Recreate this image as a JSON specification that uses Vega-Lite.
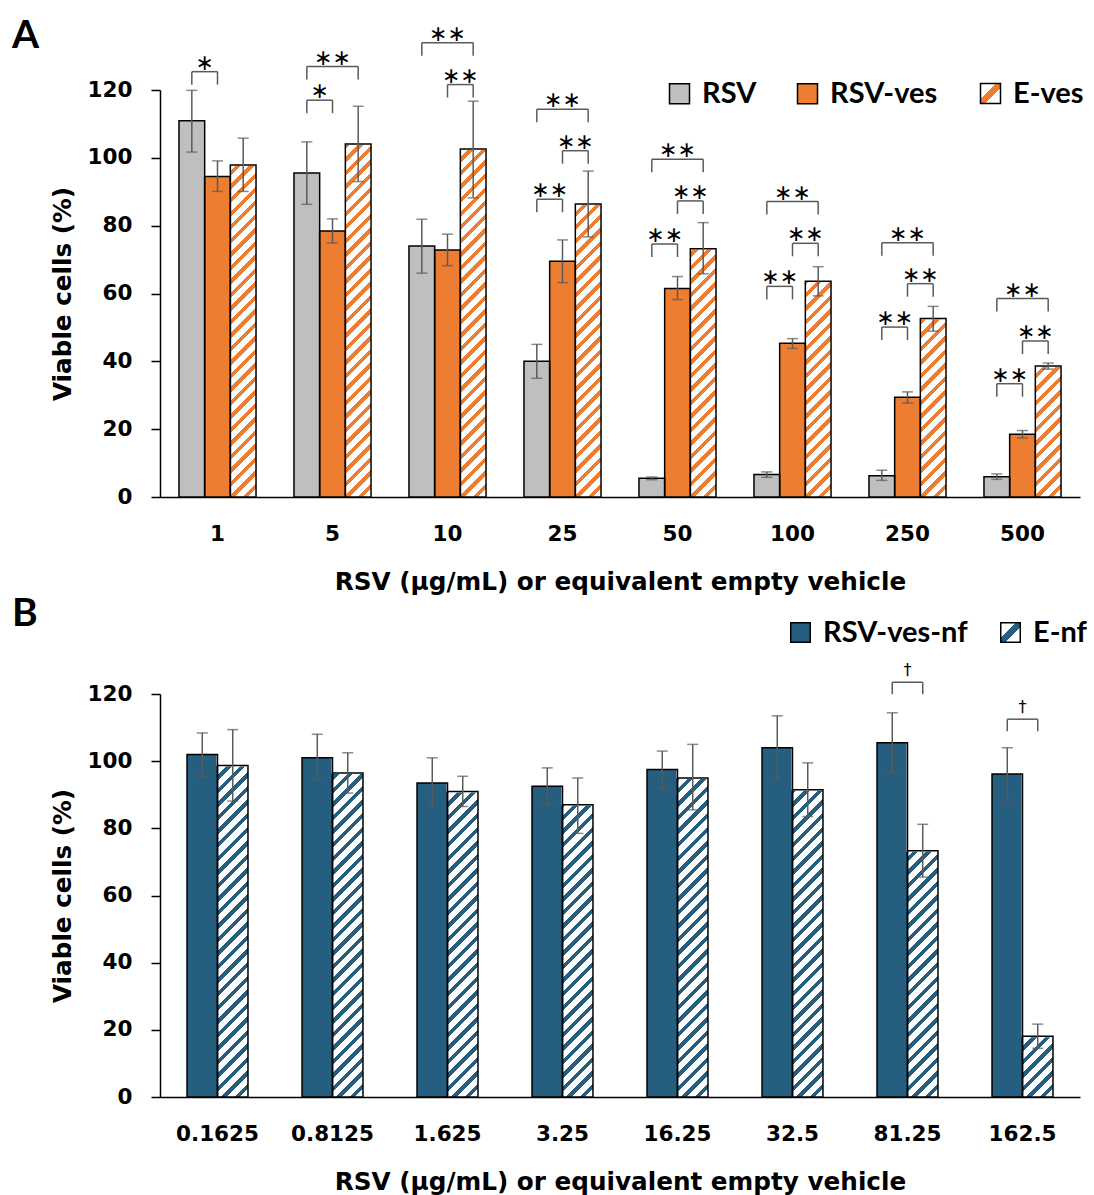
{
  "$schema": "https://vega.github.io/schema/vega-lite/v6.json",
  "background": "white",
  "padding": {"left": 12, "top": 16, "right": 5, "bottom": 0},
  "spacing": 0,
  "config": {
    "view": {"stroke": null},
    "font": "DejaVu Sans",
    "axisY": {"grid": false, "labelOverlap": false, "tickSize": 9, "tickWidth": 1.5, "tickColor": "#000", "domainColor": "#000", "domainWidth": 1.5, "labelPadding": 19, "labelFont": "DejaVu Sans", "labelFontSize": 21.5, "labelFontWeight": "bold", "labelColor": "#000", "titleFont": "DejaVu Sans", "titleFontSize": 24.7, "titleFontWeight": "bold", "titleColor": "#000", "titlePadding": 12},
    "axisX": {"labelAngle": 0, "ticks": false, "labelPadding": 26, "labelFont": "DejaVu Sans", "labelFontSize": 21.5, "labelFontWeight": "bold", "labelColor": "#000", "domainColor": "#000", "domainWidth": 1.5, "titleFont": "DejaVu Sans", "titleFontSize": 24.7, "titleFontWeight": "bold", "titleColor": "#000", "titlePadding": 25}
  },
  "resolve": {"scale": {"x": "independent", "y": "independent", "xOffset": "independent", "fill": "independent", "stroke": "independent"}, "legend": {"fill": "independent", "stroke": "independent"}},
  "datasets": {
    "barsA": [
      {"dose": "1", "series": "RSV", "mean": 110.9, "lo": 101.7, "hi": 119.9},
      {"dose": "1", "series": "RSV-ves", "mean": 94.5, "lo": 90.1, "hi": 99.1},
      {"dose": "1", "series": "E-ves", "mean": 97.9, "lo": 90.1, "hi": 105.8},
      {"dose": "5", "series": "RSV", "mean": 95.5, "lo": 86.3, "hi": 104.7},
      {"dose": "5", "series": "RSV-ves", "mean": 78.4, "lo": 74.9, "hi": 82.0},
      {"dose": "5", "series": "E-ves", "mean": 104.1, "lo": 93.0, "hi": 115.2},
      {"dose": "10", "series": "RSV", "mean": 74.0, "lo": 66.0, "hi": 81.9},
      {"dose": "10", "series": "RSV-ves", "mean": 72.8, "lo": 68.2, "hi": 77.5},
      {"dose": "10", "series": "E-ves", "mean": 102.6, "lo": 88.2, "hi": 116.7},
      {"dose": "25", "series": "RSV", "mean": 40.0, "lo": 35.0, "hi": 45.0},
      {"dose": "25", "series": "RSV-ves", "mean": 69.5, "lo": 63.2, "hi": 75.8},
      {"dose": "25", "series": "E-ves", "mean": 86.4, "lo": 76.7, "hi": 96.1},
      {"dose": "50", "series": "RSV", "mean": 5.5, "lo": 5.1, "hi": 5.9},
      {"dose": "50", "series": "RSV-ves", "mean": 61.5, "lo": 58.2, "hi": 65.0},
      {"dose": "50", "series": "E-ves", "mean": 73.2, "lo": 65.8, "hi": 80.9},
      {"dose": "100", "series": "RSV", "mean": 6.6, "lo": 5.8, "hi": 7.4},
      {"dose": "100", "series": "RSV-ves", "mean": 45.3, "lo": 43.8, "hi": 46.7},
      {"dose": "100", "series": "E-ves", "mean": 63.6, "lo": 59.3, "hi": 67.9},
      {"dose": "250", "series": "RSV", "mean": 6.3, "lo": 4.9, "hi": 7.9},
      {"dose": "250", "series": "RSV-ves", "mean": 29.4, "lo": 27.7, "hi": 31.0},
      {"dose": "250", "series": "E-ves", "mean": 52.6, "lo": 48.9, "hi": 56.2},
      {"dose": "500", "series": "RSV", "mean": 6.0, "lo": 5.2, "hi": 6.8},
      {"dose": "500", "series": "RSV-ves", "mean": 18.5, "lo": 17.4, "hi": 19.6},
      {"dose": "500", "series": "E-ves", "mean": 38.6, "lo": 37.7, "hi": 39.5}
    ],
    "sigA": [
      {"dose": "1", "from": "RSV", "to": "RSV-ves", "level": 125.4, "label": "∗"},
      {"dose": "5", "from": "RSV", "to": "RSV-ves", "level": 117.0, "label": "∗"},
      {"dose": "5", "from": "RSV", "to": "E-ves", "level": 126.9, "label": "∗∗"},
      {"dose": "10", "from": "RSV", "to": "E-ves", "level": 133.9, "label": "∗∗"},
      {"dose": "10", "from": "RSV-ves", "to": "E-ves", "level": 121.6, "label": "∗∗"},
      {"dose": "25", "from": "RSV", "to": "E-ves", "level": 114.3, "label": "∗∗"},
      {"dose": "25", "from": "RSV-ves", "to": "E-ves", "level": 102.1, "label": "∗∗"},
      {"dose": "25", "from": "RSV", "to": "RSV-ves", "level": 87.8, "label": "∗∗"},
      {"dose": "50", "from": "RSV", "to": "E-ves", "level": 99.6, "label": "∗∗"},
      {"dose": "50", "from": "RSV-ves", "to": "E-ves", "level": 87.3, "label": "∗∗"},
      {"dose": "50", "from": "RSV", "to": "RSV-ves", "level": 74.6, "label": "∗∗"},
      {"dose": "100", "from": "RSV", "to": "E-ves", "level": 87.1, "label": "∗∗"},
      {"dose": "100", "from": "RSV-ves", "to": "E-ves", "level": 74.8, "label": "∗∗"},
      {"dose": "100", "from": "RSV", "to": "RSV-ves", "level": 62.1, "label": "∗∗"},
      {"dose": "250", "from": "RSV", "to": "E-ves", "level": 75.0, "label": "∗∗"},
      {"dose": "250", "from": "RSV-ves", "to": "E-ves", "level": 62.9, "label": "∗∗"},
      {"dose": "250", "from": "RSV", "to": "RSV-ves", "level": 50.1, "label": "∗∗"},
      {"dose": "500", "from": "RSV", "to": "E-ves", "level": 58.5, "label": "∗∗"},
      {"dose": "500", "from": "RSV-ves", "to": "E-ves", "level": 46.0, "label": "∗∗"},
      {"dose": "500", "from": "RSV", "to": "RSV-ves", "level": 33.4, "label": "∗∗"}
    ],
    "barsB": [
      {"dose": "0.1625", "series": "RSV-ves-nf", "mean": 102.0, "lo": 95.5, "hi": 108.4},
      {"dose": "0.1625", "series": "E-nf", "mean": 98.7, "lo": 88.1, "hi": 109.4},
      {"dose": "0.8125", "series": "RSV-ves-nf", "mean": 101.0, "lo": 94.5, "hi": 108.0},
      {"dose": "0.8125", "series": "E-nf", "mean": 96.5, "lo": 90.5, "hi": 102.5},
      {"dose": "1.625", "series": "RSV-ves-nf", "mean": 93.5, "lo": 86.5, "hi": 101.0},
      {"dose": "1.625", "series": "E-nf", "mean": 91.0, "lo": 86.5, "hi": 95.5},
      {"dose": "3.25", "series": "RSV-ves-nf", "mean": 92.5, "lo": 87.0, "hi": 98.0},
      {"dose": "3.25", "series": "E-nf", "mean": 87.0, "lo": 78.5, "hi": 95.0},
      {"dose": "16.25", "series": "RSV-ves-nf", "mean": 97.5, "lo": 92.0, "hi": 103.0},
      {"dose": "16.25", "series": "E-nf", "mean": 95.0, "lo": 85.5, "hi": 105.0},
      {"dose": "32.5", "series": "RSV-ves-nf", "mean": 104.0, "lo": 94.5, "hi": 113.5},
      {"dose": "32.5", "series": "E-nf", "mean": 91.5, "lo": 83.5, "hi": 99.5},
      {"dose": "81.25", "series": "RSV-ves-nf", "mean": 105.5, "lo": 96.7, "hi": 114.4},
      {"dose": "81.25", "series": "E-nf", "mean": 73.3, "lo": 65.5, "hi": 81.2},
      {"dose": "162.5", "series": "RSV-ves-nf", "mean": 96.2, "lo": 88.4, "hi": 104.0},
      {"dose": "162.5", "series": "E-nf", "mean": 18.1, "lo": 14.5, "hi": 21.7}
    ],
    "sigB": [
      {"dose": "81.25", "from": "RSV-ves-nf", "to": "E-nf", "level": 123.5, "label": "†"},
      {"dose": "162.5", "from": "RSV-ves-nf", "to": "E-nf", "level": 112.5, "label": "†"}
    ]
  },
  "vconcat": [
    {
      "title": {"text": "A", "anchor": "start", "frame": "bounds", "font": "Lato", "fontSize": 39, "fontWeight": "bold", "color": "#000", "dx": -38, "offset": -33},
      "width": 920,
      "height": 407,
      "encoding": {
        "x": {"field": "dose", "type": "nominal", "title": "RSV (µg/mL) or equivalent empty vehicle",
          "scale": {"domain": ["1", "5", "10", "25", "50", "100", "250", "500"], "paddingInner": 0.33, "paddingOuter": 0.165}}
      },
      "layer": [
        {
          "data": {"name": "barsA"},
          "transform": [{"filter": "datum.series !== 'E-ves'"}],
          "mark": {"type": "bar", "strokeWidth": 0},
          "encoding": {
            "xOffset": {"field": "series", "type": "nominal", "scale": {"domain": ["RSV", "RSV-ves", "E-ves"]}},
            "y": {"field": "mean", "type": "quantitative", "title": "Viable cells (%)", "scale": {"domain": [0, 120]}, "axis": {"values": [0, 20, 40, 60, 80, 100, 120]}},
            "fill": {"field": "series", "type": "nominal",
              "scale": {"domain": ["RSV", "RSV-ves"], "range": ["#BFBFBF", "#ED7D31"]},
              "legend": {"title": null, "orient": "none", "legendX": 505, "legendY": -11, "direction": "horizontal", "symbolType": "square", "symbolSize": 400, "symbolStrokeColor": "#000", "symbolStrokeWidth": 1.5, "symbolOpacity": 1, "labelFont": "Lato", "labelFontSize": 29, "labelFontWeight": "bold", "labelColor": "#000", "labelOffset": 8, "columnPadding": 36}
            }
          }
        },
        {
          "data": {"name": "barsA"},
          "transform": [{"filter": "datum.series === 'E-ves'"}],
          "mark": {"type": "bar", "opacity": 0, "strokeWidth": 0, "fill": {"gradient": "linear", "x1": 0, "y1": 0, "x2": 1, "y2": 1, "stops": [{"offset": 0, "color": "#fff"}, {"offset": 0.38, "color": "#fff"}, {"offset": 0.38, "color": "#ED7D31"}, {"offset": 0.62, "color": "#ED7D31"}, {"offset": 0.62, "color": "#fff"}, {"offset": 1, "color": "#fff"}]}},
          "encoding": {
            "xOffset": {"field": "series", "type": "nominal", "scale": {"domain": ["RSV", "RSV-ves", "E-ves"]}},
            "y": {"field": "mean", "type": "quantitative", "title": "Viable cells (%)", "scale": {"domain": [0, 120]}, "axis": {"values": [0, 20, 40, 60, 80, 100, 120]}},
            "stroke": {"field": "series", "type": "nominal",
              "scale": {"domain": ["E-ves"], "range": ["#000"]},
              "legend": {"title": null, "orient": "none", "legendX": 816, "legendY": -11, "direction": "horizontal", "symbolType": "square", "symbolSize": 400, "symbolStrokeWidth": 1.5, "symbolOpacity": 1, "labelFont": "Lato", "labelFontSize": 29, "labelFontWeight": "bold", "labelColor": "#000", "labelOffset": 8}
            }
          }
        },
        {
          "data": {"name": "barsA"},
          "transform": [{"filter": "datum.series === 'E-ves'"}],
          "mark": {"type": "bar", "strokeWidth": 0, "fill": {"gradient": "linear", "x1": 0, "y1": 0, "x2": 0.06682, "y2": 1.05889, "stops": [
            {"offset": 0, "color": "#ED7D31"}, {"offset": 0.0125, "color": "#ED7D31"}, {"offset": 0.0125, "color": "#fff"}, {"offset": 0.03125, "color": "#fff"},
            {"offset": 0.03125, "color": "#ED7D31"}, {"offset": 0.04375, "color": "#ED7D31"}, {"offset": 0.04375, "color": "#fff"}, {"offset": 0.0625, "color": "#fff"},
            {"offset": 0.0625, "color": "#ED7D31"}, {"offset": 0.075, "color": "#ED7D31"}, {"offset": 0.075, "color": "#fff"}, {"offset": 0.09375, "color": "#fff"},
            {"offset": 0.09375, "color": "#ED7D31"}, {"offset": 0.10625, "color": "#ED7D31"}, {"offset": 0.10625, "color": "#fff"}, {"offset": 0.125, "color": "#fff"},
            {"offset": 0.125, "color": "#ED7D31"}, {"offset": 0.1375, "color": "#ED7D31"}, {"offset": 0.1375, "color": "#fff"}, {"offset": 0.15625, "color": "#fff"},
            {"offset": 0.15625, "color": "#ED7D31"}, {"offset": 0.16875, "color": "#ED7D31"}, {"offset": 0.16875, "color": "#fff"}, {"offset": 0.1875, "color": "#fff"},
            {"offset": 0.1875, "color": "#ED7D31"}, {"offset": 0.2, "color": "#ED7D31"}, {"offset": 0.2, "color": "#fff"}, {"offset": 0.21875, "color": "#fff"},
            {"offset": 0.21875, "color": "#ED7D31"}, {"offset": 0.23125, "color": "#ED7D31"}, {"offset": 0.23125, "color": "#fff"}, {"offset": 0.25, "color": "#fff"},
            {"offset": 0.25, "color": "#ED7D31"}, {"offset": 0.2625, "color": "#ED7D31"}, {"offset": 0.2625, "color": "#fff"}, {"offset": 0.28125, "color": "#fff"},
            {"offset": 0.28125, "color": "#ED7D31"}, {"offset": 0.29375, "color": "#ED7D31"}, {"offset": 0.29375, "color": "#fff"}, {"offset": 0.3125, "color": "#fff"},
            {"offset": 0.3125, "color": "#ED7D31"}, {"offset": 0.325, "color": "#ED7D31"}, {"offset": 0.325, "color": "#fff"}, {"offset": 0.34375, "color": "#fff"},
            {"offset": 0.34375, "color": "#ED7D31"}, {"offset": 0.35625, "color": "#ED7D31"}, {"offset": 0.35625, "color": "#fff"}, {"offset": 0.375, "color": "#fff"},
            {"offset": 0.375, "color": "#ED7D31"}, {"offset": 0.3875, "color": "#ED7D31"}, {"offset": 0.3875, "color": "#fff"}, {"offset": 0.40625, "color": "#fff"},
            {"offset": 0.40625, "color": "#ED7D31"}, {"offset": 0.41875, "color": "#ED7D31"}, {"offset": 0.41875, "color": "#fff"}, {"offset": 0.4375, "color": "#fff"},
            {"offset": 0.4375, "color": "#ED7D31"}, {"offset": 0.45, "color": "#ED7D31"}, {"offset": 0.45, "color": "#fff"}, {"offset": 0.46875, "color": "#fff"},
            {"offset": 0.46875, "color": "#ED7D31"}, {"offset": 0.48125, "color": "#ED7D31"}, {"offset": 0.48125, "color": "#fff"}, {"offset": 0.5, "color": "#fff"},
            {"offset": 0.5, "color": "#ED7D31"}, {"offset": 0.5125, "color": "#ED7D31"}, {"offset": 0.5125, "color": "#fff"}, {"offset": 0.53125, "color": "#fff"},
            {"offset": 0.53125, "color": "#ED7D31"}, {"offset": 0.54375, "color": "#ED7D31"}, {"offset": 0.54375, "color": "#fff"}, {"offset": 0.5625, "color": "#fff"},
            {"offset": 0.5625, "color": "#ED7D31"}, {"offset": 0.575, "color": "#ED7D31"}, {"offset": 0.575, "color": "#fff"}, {"offset": 0.59375, "color": "#fff"},
            {"offset": 0.59375, "color": "#ED7D31"}, {"offset": 0.60625, "color": "#ED7D31"}, {"offset": 0.60625, "color": "#fff"}, {"offset": 0.625, "color": "#fff"},
            {"offset": 0.625, "color": "#ED7D31"}, {"offset": 0.6375, "color": "#ED7D31"}, {"offset": 0.6375, "color": "#fff"}, {"offset": 0.65625, "color": "#fff"},
            {"offset": 0.65625, "color": "#ED7D31"}, {"offset": 0.66875, "color": "#ED7D31"}, {"offset": 0.66875, "color": "#fff"}, {"offset": 0.6875, "color": "#fff"},
            {"offset": 0.6875, "color": "#ED7D31"}, {"offset": 0.7, "color": "#ED7D31"}, {"offset": 0.7, "color": "#fff"}, {"offset": 0.71875, "color": "#fff"},
            {"offset": 0.71875, "color": "#ED7D31"}, {"offset": 0.73125, "color": "#ED7D31"}, {"offset": 0.73125, "color": "#fff"}, {"offset": 0.75, "color": "#fff"},
            {"offset": 0.75, "color": "#ED7D31"}, {"offset": 0.7625, "color": "#ED7D31"}, {"offset": 0.7625, "color": "#fff"}, {"offset": 0.78125, "color": "#fff"},
            {"offset": 0.78125, "color": "#ED7D31"}, {"offset": 0.79375, "color": "#ED7D31"}, {"offset": 0.79375, "color": "#fff"}, {"offset": 0.8125, "color": "#fff"},
            {"offset": 0.8125, "color": "#ED7D31"}, {"offset": 0.825, "color": "#ED7D31"}, {"offset": 0.825, "color": "#fff"}, {"offset": 0.84375, "color": "#fff"},
            {"offset": 0.84375, "color": "#ED7D31"}, {"offset": 0.85625, "color": "#ED7D31"}, {"offset": 0.85625, "color": "#fff"}, {"offset": 0.875, "color": "#fff"},
            {"offset": 0.875, "color": "#ED7D31"}, {"offset": 0.8875, "color": "#ED7D31"}, {"offset": 0.8875, "color": "#fff"}, {"offset": 0.90625, "color": "#fff"},
            {"offset": 0.90625, "color": "#ED7D31"}, {"offset": 0.91875, "color": "#ED7D31"}, {"offset": 0.91875, "color": "#fff"}, {"offset": 0.9375, "color": "#fff"},
            {"offset": 0.9375, "color": "#ED7D31"}, {"offset": 0.95, "color": "#ED7D31"}, {"offset": 0.95, "color": "#fff"}, {"offset": 0.96875, "color": "#fff"},
            {"offset": 0.96875, "color": "#ED7D31"}, {"offset": 0.98125, "color": "#ED7D31"}, {"offset": 0.98125, "color": "#fff"}, {"offset": 1, "color": "#fff"}
          ]}},
          "encoding": {
            "xOffset": {"field": "series", "type": "nominal", "scale": {"domain": ["RSV", "RSV-ves", "E-ves"]}},
            "y": {"datum": 120, "type": "quantitative", "title": "Viable cells (%)", "scale": {"domain": [0, 120]}, "axis": {"values": [0, 20, 40, 60, 80, 100, 120]}},
            "y2": {"datum": 0}
          }
        },
        {
          "data": {"name": "barsA"},
          "transform": [{"filter": "datum.series === 'E-ves'"}],
          "mark": {"type": "bar", "fill": "#fff", "stroke": "#fff", "strokeWidth": 2},
          "encoding": {
            "xOffset": {"field": "series", "type": "nominal", "scale": {"domain": ["RSV", "RSV-ves", "E-ves"]}},
            "y": {"field": "mean", "type": "quantitative", "title": "Viable cells (%)", "scale": {"domain": [0, 120]}, "axis": {"values": [0, 20, 40, 60, 80, 100, 120]}},
            "y2": {"datum": 120}
          }
        },
        {
          "data": {"name": "barsA"},
          "mark": {"type": "bar", "fill": "transparent", "stroke": "#000", "strokeWidth": 1.5},
          "encoding": {
            "xOffset": {"field": "series", "type": "nominal", "scale": {"domain": ["RSV", "RSV-ves", "E-ves"]}},
            "y": {"field": "mean", "type": "quantitative", "title": "Viable cells (%)", "scale": {"domain": [0, 120]}, "axis": {"values": [0, 20, 40, 60, 80, 100, 120]}}
          }
        },
        {
          "data": {"name": "barsA"},
          "mark": {"type": "rule", "color": "#5A5A5A", "strokeWidth": 1.5},
          "encoding": {
            "xOffset": {"field": "series", "type": "nominal", "scale": {"domain": ["RSV", "RSV-ves", "E-ves"]}},
            "y": {"field": "lo", "type": "quantitative", "title": "Viable cells (%)", "scale": {"domain": [0, 120]}, "axis": {"values": [0, 20, 40, 60, 80, 100, 120]}},
            "y2": {"field": "hi"}
          }
        },
        {
          "data": {"name": "barsA"},
          "transform": [{"fold": ["lo", "hi"], "as": ["end", "bound"]}],
          "mark": {"type": "tick", "color": "#5A5A5A", "thickness": 1.5, "size": 11, "orient": "horizontal"},
          "encoding": {
            "xOffset": {"field": "series", "type": "nominal", "scale": {"domain": ["RSV", "RSV-ves", "E-ves"]}},
            "y": {"field": "bound", "type": "quantitative", "title": "Viable cells (%)", "scale": {"domain": [0, 120]}, "axis": {"values": [0, 20, 40, 60, 80, 100, 120]}}
          }
        },
        {
          "data": {"name": "sigA"},
          "transform": [{"fold": ["from", "to"], "as": ["end", "series"]}],
          "mark": {"type": "line", "color": "#5A5A5A", "strokeWidth": 1.5},
          "encoding": {
            "xOffset": {"field": "series", "type": "nominal", "scale": {"domain": ["RSV", "RSV-ves", "E-ves"]}},
            "y": {"field": "level", "type": "quantitative", "title": "Viable cells (%)", "scale": {"domain": [0, 120]}, "axis": {"values": [0, 20, 40, 60, 80, 100, 120]}},
            "detail": [{"field": "dose"}, {"field": "from"}, {"field": "to"}]
          }
        },
        {
          "data": {"name": "sigA"},
          "transform": [{"fold": ["from", "to"], "as": ["end", "series"]}],
          "mark": {"type": "rule", "color": "#5A5A5A", "strokeWidth": 1.5, "y2Offset": 13},
          "encoding": {
            "xOffset": {"field": "series", "type": "nominal", "scale": {"domain": ["RSV", "RSV-ves", "E-ves"]}},
            "y": {"field": "level", "type": "quantitative", "title": "Viable cells (%)", "scale": {"domain": [0, 120]}, "axis": {"values": [0, 20, 40, 60, 80, 100, 120]}},
            "y2": {"field": "level"}
          }
        },
        {
          "data": {"name": "sigA"},
          "transform": [{"filter": "!(datum.from === 'RSV' && datum.to === 'E-ves')"}],
          "mark": {"type": "text", "font": "DejaVu Sans", "fontSize": 22, "color": "#000", "baseline": "alphabetic", "dx": 12.84, "dy": -2},
          "encoding": {
            "xOffset": {"field": "from", "type": "nominal", "scale": {"domain": ["RSV", "RSV-ves", "E-ves"]}},
            "y": {"field": "level", "type": "quantitative", "title": "Viable cells (%)", "scale": {"domain": [0, 120]}, "axis": {"values": [0, 20, 40, 60, 80, 100, 120]}},
            "text": {"field": "label"}
          }
        },
        {
          "data": {"name": "sigA"},
          "transform": [{"filter": "datum.from === 'RSV' && datum.to === 'E-ves'"}],
          "mark": {"type": "text", "font": "DejaVu Sans", "fontSize": 22, "color": "#000", "baseline": "alphabetic", "dy": -2},
          "encoding": {
            "y": {"field": "level", "type": "quantitative", "title": "Viable cells (%)", "scale": {"domain": [0, 120]}, "axis": {"values": [0, 20, 40, 60, 80, 100, 120]}},
            "text": {"field": "label"}
          }
        }
      ]
    },
    {
      "title": {"text": "B", "anchor": "start", "frame": "bounds", "font": "Lato", "fontSize": 39, "fontWeight": "bold", "color": "#000", "dx": -38, "offset": -16},
      "width": 920,
      "height": 403,
      "encoding": {
        "x": {"field": "dose", "type": "nominal", "title": "RSV (µg/mL) or equivalent empty vehicle",
          "scale": {"domain": ["0.1625", "0.8125", "1.625", "3.25", "16.25", "32.5", "81.25", "162.5"], "paddingInner": 0.47, "paddingOuter": 0.235}}
      },
      "layer": [
        {
          "data": {"name": "barsB"},
          "transform": [{"filter": "datum.series !== 'E-nf'"}],
          "mark": {"type": "bar", "strokeWidth": 0},
          "encoding": {
            "xOffset": {"field": "series", "type": "nominal", "scale": {"domain": ["RSV-ves-nf", "E-nf"]}},
            "y": {"field": "mean", "type": "quantitative", "title": "Viable cells (%)", "scale": {"domain": [0, 120]}, "axis": {"values": [0, 20, 40, 60, 80, 100, 120]}},
            "fill": {"field": "series", "type": "nominal",
              "scale": {"domain": ["RSV-ves-nf"], "range": ["#255E7E"]},
              "legend": {"title": null, "orient": "none", "legendX": 626, "legendY": -76, "direction": "horizontal", "symbolType": "square", "symbolSize": 380, "symbolStrokeColor": "#000", "symbolStrokeWidth": 1.5, "symbolOpacity": 1, "labelFont": "Lato", "labelFontSize": 29, "labelFontWeight": "bold", "labelColor": "#000", "labelOffset": 8}
            }
          }
        },
        {
          "data": {"name": "barsB"},
          "transform": [{"filter": "datum.series === 'E-nf'"}],
          "mark": {"type": "bar", "opacity": 0, "strokeWidth": 0, "fill": {"gradient": "linear", "x1": 0, "y1": 0, "x2": 1, "y2": 1, "stops": [{"offset": 0, "color": "#fff"}, {"offset": 0.38, "color": "#fff"}, {"offset": 0.38, "color": "#255E7E"}, {"offset": 0.62, "color": "#255E7E"}, {"offset": 0.62, "color": "#fff"}, {"offset": 1, "color": "#fff"}]}},
          "encoding": {
            "xOffset": {"field": "series", "type": "nominal", "scale": {"domain": ["RSV-ves-nf", "E-nf"]}},
            "y": {"field": "mean", "type": "quantitative", "title": "Viable cells (%)", "scale": {"domain": [0, 120]}, "axis": {"values": [0, 20, 40, 60, 80, 100, 120]}},
            "stroke": {"field": "series", "type": "nominal",
              "scale": {"domain": ["E-nf"], "range": ["#000"]},
              "legend": {"title": null, "orient": "none", "legendX": 836, "legendY": -76, "direction": "horizontal", "symbolType": "square", "symbolSize": 380, "symbolStrokeWidth": 1.5, "symbolOpacity": 1, "labelFont": "Lato", "labelFontSize": 29, "labelFontWeight": "bold", "labelColor": "#000", "labelOffset": 8}
            }
          }
        },
        {
          "data": {"name": "barsB"},
          "transform": [{"filter": "datum.series === 'E-nf'"}],
          "mark": {"type": "bar", "strokeWidth": 0, "fill": {"gradient": "linear", "x1": 0, "y1": 0, "x2": 0.080877, "y2": 1.06952, "stops": [
            {"offset": 0, "color": "#255E7E"}, {"offset": 0.0125, "color": "#255E7E"}, {"offset": 0.0125, "color": "#fff"}, {"offset": 0.03125, "color": "#fff"},
            {"offset": 0.03125, "color": "#255E7E"}, {"offset": 0.04375, "color": "#255E7E"}, {"offset": 0.04375, "color": "#fff"}, {"offset": 0.0625, "color": "#fff"},
            {"offset": 0.0625, "color": "#255E7E"}, {"offset": 0.075, "color": "#255E7E"}, {"offset": 0.075, "color": "#fff"}, {"offset": 0.09375, "color": "#fff"},
            {"offset": 0.09375, "color": "#255E7E"}, {"offset": 0.10625, "color": "#255E7E"}, {"offset": 0.10625, "color": "#fff"}, {"offset": 0.125, "color": "#fff"},
            {"offset": 0.125, "color": "#255E7E"}, {"offset": 0.1375, "color": "#255E7E"}, {"offset": 0.1375, "color": "#fff"}, {"offset": 0.15625, "color": "#fff"},
            {"offset": 0.15625, "color": "#255E7E"}, {"offset": 0.16875, "color": "#255E7E"}, {"offset": 0.16875, "color": "#fff"}, {"offset": 0.1875, "color": "#fff"},
            {"offset": 0.1875, "color": "#255E7E"}, {"offset": 0.2, "color": "#255E7E"}, {"offset": 0.2, "color": "#fff"}, {"offset": 0.21875, "color": "#fff"},
            {"offset": 0.21875, "color": "#255E7E"}, {"offset": 0.23125, "color": "#255E7E"}, {"offset": 0.23125, "color": "#fff"}, {"offset": 0.25, "color": "#fff"},
            {"offset": 0.25, "color": "#255E7E"}, {"offset": 0.2625, "color": "#255E7E"}, {"offset": 0.2625, "color": "#fff"}, {"offset": 0.28125, "color": "#fff"},
            {"offset": 0.28125, "color": "#255E7E"}, {"offset": 0.29375, "color": "#255E7E"}, {"offset": 0.29375, "color": "#fff"}, {"offset": 0.3125, "color": "#fff"},
            {"offset": 0.3125, "color": "#255E7E"}, {"offset": 0.325, "color": "#255E7E"}, {"offset": 0.325, "color": "#fff"}, {"offset": 0.34375, "color": "#fff"},
            {"offset": 0.34375, "color": "#255E7E"}, {"offset": 0.35625, "color": "#255E7E"}, {"offset": 0.35625, "color": "#fff"}, {"offset": 0.375, "color": "#fff"},
            {"offset": 0.375, "color": "#255E7E"}, {"offset": 0.3875, "color": "#255E7E"}, {"offset": 0.3875, "color": "#fff"}, {"offset": 0.40625, "color": "#fff"},
            {"offset": 0.40625, "color": "#255E7E"}, {"offset": 0.41875, "color": "#255E7E"}, {"offset": 0.41875, "color": "#fff"}, {"offset": 0.4375, "color": "#fff"},
            {"offset": 0.4375, "color": "#255E7E"}, {"offset": 0.45, "color": "#255E7E"}, {"offset": 0.45, "color": "#fff"}, {"offset": 0.46875, "color": "#fff"},
            {"offset": 0.46875, "color": "#255E7E"}, {"offset": 0.48125, "color": "#255E7E"}, {"offset": 0.48125, "color": "#fff"}, {"offset": 0.5, "color": "#fff"},
            {"offset": 0.5, "color": "#255E7E"}, {"offset": 0.5125, "color": "#255E7E"}, {"offset": 0.5125, "color": "#fff"}, {"offset": 0.53125, "color": "#fff"},
            {"offset": 0.53125, "color": "#255E7E"}, {"offset": 0.54375, "color": "#255E7E"}, {"offset": 0.54375, "color": "#fff"}, {"offset": 0.5625, "color": "#fff"},
            {"offset": 0.5625, "color": "#255E7E"}, {"offset": 0.575, "color": "#255E7E"}, {"offset": 0.575, "color": "#fff"}, {"offset": 0.59375, "color": "#fff"},
            {"offset": 0.59375, "color": "#255E7E"}, {"offset": 0.60625, "color": "#255E7E"}, {"offset": 0.60625, "color": "#fff"}, {"offset": 0.625, "color": "#fff"},
            {"offset": 0.625, "color": "#255E7E"}, {"offset": 0.6375, "color": "#255E7E"}, {"offset": 0.6375, "color": "#fff"}, {"offset": 0.65625, "color": "#fff"},
            {"offset": 0.65625, "color": "#255E7E"}, {"offset": 0.66875, "color": "#255E7E"}, {"offset": 0.66875, "color": "#fff"}, {"offset": 0.6875, "color": "#fff"},
            {"offset": 0.6875, "color": "#255E7E"}, {"offset": 0.7, "color": "#255E7E"}, {"offset": 0.7, "color": "#fff"}, {"offset": 0.71875, "color": "#fff"},
            {"offset": 0.71875, "color": "#255E7E"}, {"offset": 0.73125, "color": "#255E7E"}, {"offset": 0.73125, "color": "#fff"}, {"offset": 0.75, "color": "#fff"},
            {"offset": 0.75, "color": "#255E7E"}, {"offset": 0.7625, "color": "#255E7E"}, {"offset": 0.7625, "color": "#fff"}, {"offset": 0.78125, "color": "#fff"},
            {"offset": 0.78125, "color": "#255E7E"}, {"offset": 0.79375, "color": "#255E7E"}, {"offset": 0.79375, "color": "#fff"}, {"offset": 0.8125, "color": "#fff"},
            {"offset": 0.8125, "color": "#255E7E"}, {"offset": 0.825, "color": "#255E7E"}, {"offset": 0.825, "color": "#fff"}, {"offset": 0.84375, "color": "#fff"},
            {"offset": 0.84375, "color": "#255E7E"}, {"offset": 0.85625, "color": "#255E7E"}, {"offset": 0.85625, "color": "#fff"}, {"offset": 0.875, "color": "#fff"},
            {"offset": 0.875, "color": "#255E7E"}, {"offset": 0.8875, "color": "#255E7E"}, {"offset": 0.8875, "color": "#fff"}, {"offset": 0.90625, "color": "#fff"},
            {"offset": 0.90625, "color": "#255E7E"}, {"offset": 0.91875, "color": "#255E7E"}, {"offset": 0.91875, "color": "#fff"}, {"offset": 0.9375, "color": "#fff"},
            {"offset": 0.9375, "color": "#255E7E"}, {"offset": 0.95, "color": "#255E7E"}, {"offset": 0.95, "color": "#fff"}, {"offset": 0.96875, "color": "#fff"},
            {"offset": 0.96875, "color": "#255E7E"}, {"offset": 0.98125, "color": "#255E7E"}, {"offset": 0.98125, "color": "#fff"}, {"offset": 1, "color": "#fff"}
          ]}},
          "encoding": {
            "xOffset": {"field": "series", "type": "nominal", "scale": {"domain": ["RSV-ves-nf", "E-nf"]}},
            "y": {"datum": 120, "type": "quantitative", "title": "Viable cells (%)", "scale": {"domain": [0, 120]}, "axis": {"values": [0, 20, 40, 60, 80, 100, 120]}},
            "y2": {"datum": 0}
          }
        },
        {
          "data": {"name": "barsB"},
          "transform": [{"filter": "datum.series === 'E-nf'"}],
          "mark": {"type": "bar", "fill": "#fff", "stroke": "#fff", "strokeWidth": 2},
          "encoding": {
            "xOffset": {"field": "series", "type": "nominal", "scale": {"domain": ["RSV-ves-nf", "E-nf"]}},
            "y": {"field": "mean", "type": "quantitative", "title": "Viable cells (%)", "scale": {"domain": [0, 120]}, "axis": {"values": [0, 20, 40, 60, 80, 100, 120]}},
            "y2": {"datum": 120}
          }
        },
        {
          "data": {"name": "barsB"},
          "mark": {"type": "bar", "fill": "transparent", "stroke": "#000", "strokeWidth": 1.5},
          "encoding": {
            "xOffset": {"field": "series", "type": "nominal", "scale": {"domain": ["RSV-ves-nf", "E-nf"]}},
            "y": {"field": "mean", "type": "quantitative", "title": "Viable cells (%)", "scale": {"domain": [0, 120]}, "axis": {"values": [0, 20, 40, 60, 80, 100, 120]}}
          }
        },
        {
          "data": {"name": "barsB"},
          "mark": {"type": "rule", "color": "#5A5A5A", "strokeWidth": 1.5},
          "encoding": {
            "xOffset": {"field": "series", "type": "nominal", "scale": {"domain": ["RSV-ves-nf", "E-nf"]}},
            "y": {"field": "lo", "type": "quantitative", "title": "Viable cells (%)", "scale": {"domain": [0, 120]}, "axis": {"values": [0, 20, 40, 60, 80, 100, 120]}},
            "y2": {"field": "hi"}
          }
        },
        {
          "data": {"name": "barsB"},
          "transform": [{"fold": ["lo", "hi"], "as": ["end", "bound"]}],
          "mark": {"type": "tick", "color": "#5A5A5A", "thickness": 1.5, "size": 11, "orient": "horizontal"},
          "encoding": {
            "xOffset": {"field": "series", "type": "nominal", "scale": {"domain": ["RSV-ves-nf", "E-nf"]}},
            "y": {"field": "bound", "type": "quantitative", "title": "Viable cells (%)", "scale": {"domain": [0, 120]}, "axis": {"values": [0, 20, 40, 60, 80, 100, 120]}}
          }
        },
        {
          "data": {"name": "sigB"},
          "transform": [{"fold": ["from", "to"], "as": ["end", "series"]}],
          "mark": {"type": "line", "color": "#5A5A5A", "strokeWidth": 1.5},
          "encoding": {
            "xOffset": {"field": "series", "type": "nominal", "scale": {"domain": ["RSV-ves-nf", "E-nf"]}},
            "y": {"field": "level", "type": "quantitative", "title": "Viable cells (%)", "scale": {"domain": [0, 120]}, "axis": {"values": [0, 20, 40, 60, 80, 100, 120]}},
            "detail": [{"field": "dose"}]
          }
        },
        {
          "data": {"name": "sigB"},
          "transform": [{"fold": ["from", "to"], "as": ["end", "series"]}],
          "mark": {"type": "rule", "color": "#5A5A5A", "strokeWidth": 1.5, "y2Offset": 12},
          "encoding": {
            "xOffset": {"field": "series", "type": "nominal", "scale": {"domain": ["RSV-ves-nf", "E-nf"]}},
            "y": {"field": "level", "type": "quantitative", "title": "Viable cells (%)", "scale": {"domain": [0, 120]}, "axis": {"values": [0, 20, 40, 60, 80, 100, 120]}},
            "y2": {"field": "level"}
          }
        },
        {
          "data": {"name": "sigB"},
          "mark": {"type": "text", "font": "DejaVu Sans", "fontSize": 16, "color": "#000", "baseline": "alphabetic", "dy": -7},
          "encoding": {
            "y": {"field": "level", "type": "quantitative", "title": "Viable cells (%)", "scale": {"domain": [0, 120]}, "axis": {"values": [0, 20, 40, 60, 80, 100, 120]}},
            "text": {"field": "label"}
          }
        }
      ]
    }
  ]
}
